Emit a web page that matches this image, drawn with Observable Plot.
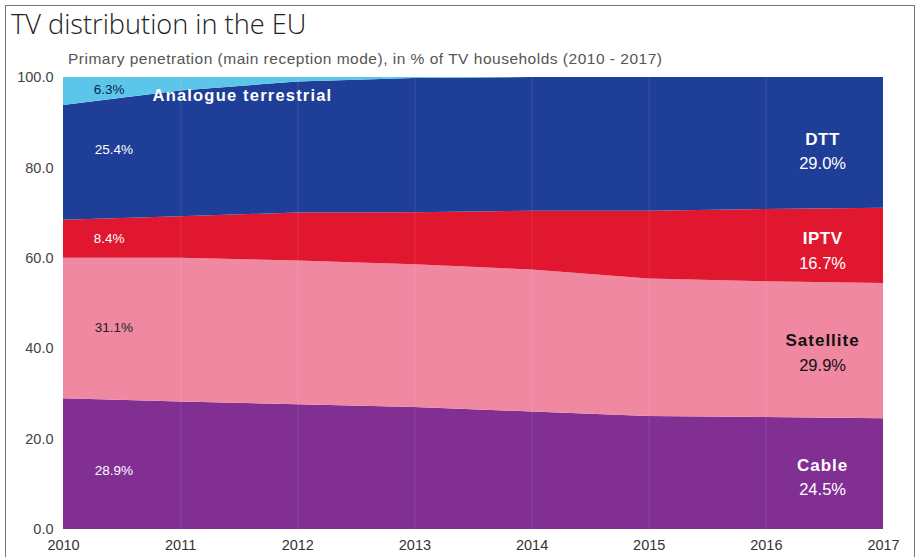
<!DOCTYPE html>
<html>
<head>
<meta charset="utf-8">
<script src="https://cdn.jsdelivr.net/npm/d3@7"></script>
<script src="https://cdn.jsdelivr.net/npm/@observablehq/plot@0.6"></script>
<style>
  html, body { margin: 0; padding: 0; background: #fff; }
  #wrap { position: relative; width: 920px; height: 557px; overflow: hidden; }
  #frame { position: absolute; left: 5px; top: 5px; width: 910px; height: 600px; border: 1.5px solid #777; box-sizing: border-box; }
  #title { position: absolute; left: 11px; top: 5px; font-family: "Open Sans", sans-serif; font-weight: 300; font-size: 27.2px; color: #222; white-space: nowrap; }
  #subtitle { position: absolute; left: 68px; top: 50px; font-family: "Liberation Sans", Arial, sans-serif; font-size: 15.5px; letter-spacing: 0.5px; color: #555; white-space: nowrap; }
  #chart { position: absolute; left: 0; top: 44px; }
</style>
</head>
<body>
<div id="wrap">
  <div id="frame"></div>
  <div id="title">TV distribution in the EU</div>
  <div id="subtitle">Primary penetration (main reception mode), in % of TV households (2010 - 2017)</div>
  <div id="chart"></div>
</div>
<script>
const years = [2010, 2011, 2012, 2013, 2014, 2015, 2016, 2017];
const cable = [28.9, 28.2, 27.6, 27.0, 26.0, 25.0, 24.8, 24.5];
const satellite = [31.1, 31.8, 31.8, 31.6, 31.4, 30.4, 30.0, 29.9];
const iptv = [8.4, 9.2, 10.6, 11.5, 13.0, 15.0, 16.0, 16.7];
const dtt = [25.4, 27.8, 29.0, 29.7, 29.6, 29.6, 29.2, 29.0];
const analogue = [6.3, 3.0, 1.0, 0.2, 0, 0, 0, 0];
const seriesNames = ["Cable", "Satellite", "IPTV", "DTT", "Analogue terrestrial"];
const seriesValues = [cable, satellite, iptv, dtt, analogue];
const seriesColors = ["#822f94", "#f088a2", "#e1162f", "#1f3e98", "#5bc6ea"];
const yTicks = [0, 20, 40, 60, 80, 100];

const rows = [];
seriesNames.forEach((name, i) => {
  years.forEach((yr, j) => rows.push({year: yr, series: name, value: seriesValues[i][j]}));
});

// label annotations (values from the data arrays)
const first = 0, last = years.length - 1;
const leftLabels = [
  {x: 2010.39, y: 97.4, text: analogue[first].toFixed(1) + "%", fill: "#0d1f4f", weight: "bold"},
  {x: 2010.43, y: 84.0, text: dtt[first].toFixed(1) + "%", fill: "#ffffff", weight: "normal"},
  {x: 2010.39, y: 64.3, text: iptv[first].toFixed(1) + "%", fill: "#ffffff", weight: "normal"},
  {x: 2010.43, y: 44.6, text: satellite[first].toFixed(1) + "%", fill: "#222222", weight: "bold"},
  {x: 2010.43, y: 13.0, text: cable[first].toFixed(1) + "%", fill: "#ffffff", weight: "normal"}
];
const rightNames = [
  {y: 86.2, text: "DTT", fill: "#ffffff"},
  {y: 64.3, text: "IPTV", fill: "#ffffff"},
  {y: 41.7, text: "Satellite", fill: "#111111"},
  {y: 14.1, text: "Cable", fill: "#ffffff"}
];
const rightPcts = [
  {y: 80.9, text: dtt[last].toFixed(1) + "%", fill: "#ffffff"},
  {y: 58.7, text: iptv[last].toFixed(1) + "%", fill: "#ffffff"},
  {y: 36.2, text: satellite[last].toFixed(1) + "%", fill: "#111111"},
  {y: 8.7, text: cable[last].toFixed(1) + "%", fill: "#ffffff"}
];

const chart = Plot.plot({
  width: 920,
  height: 513,
  marginLeft: 63,
  marginRight: 37,
  marginTop: 33,
  marginBottom: 28,
  style: {fontFamily: "'Liberation Sans', Arial, sans-serif", background: "transparent", overflow: "visible"},
  x: {domain: [2010, 2017], label: null},
  y: {domain: [0, 100], label: null},
  color: {domain: seriesNames, range: seriesColors},
  marks: [
    Plot.areaY(rows, {x: "year", y: "value", fill: "series", order: seriesNames, clip: true}),
    Plot.ruleX(years.slice(1, -1), {stroke: "#ffffff", strokeOpacity: 0.07, strokeWidth: 1.5}),
    Plot.axisX({ticks: years, tickFormat: d => String(d), tickSize: 0, tickPadding: 10, fontSize: 14.5, fill: "#333", label: null}),
    Plot.axisY({ticks: yTicks, tickFormat: d => d.toFixed(1), tickSize: 0, tickPadding: 10, fontSize: 14.5, fill: "#444", label: null}),
    Plot.text(leftLabels, {x: "x", y: "y", text: "text", fill: "fill", fontWeight: "weight", fontSize: 13.5, textAnchor: "middle"}),
    Plot.text(["Analogue terrestrial"], {x: 2010.76, y: 96.0, text: d => d, fill: "#ffffff", fontWeight: "bold", fontSize: 16.5, textAnchor: "start"}),
    Plot.text(rightNames, {x: 2016.48, y: "y", text: "text", fill: "fill", fontWeight: "bold", fontSize: 17, textAnchor: "middle"}),
    Plot.text(rightPcts, {x: 2016.48, y: "y", text: "text", fill: "fill", fontSize: 16.5, textAnchor: "middle"})
  ]
});
d3.select(chart).selectAll("text").each(function() {
  const t = this.textContent;
  if (t === "Analogue terrestrial") d3.select(this).style("letter-spacing", "1.2px");
  if (t === "Satellite" || t === "Cable") d3.select(this).style("letter-spacing", "1px");
  if (t === "DTT" || t === "IPTV") d3.select(this).style("letter-spacing", "0.5px");
});
document.getElementById("chart").appendChild(chart);
</script>
</body>
</html>
